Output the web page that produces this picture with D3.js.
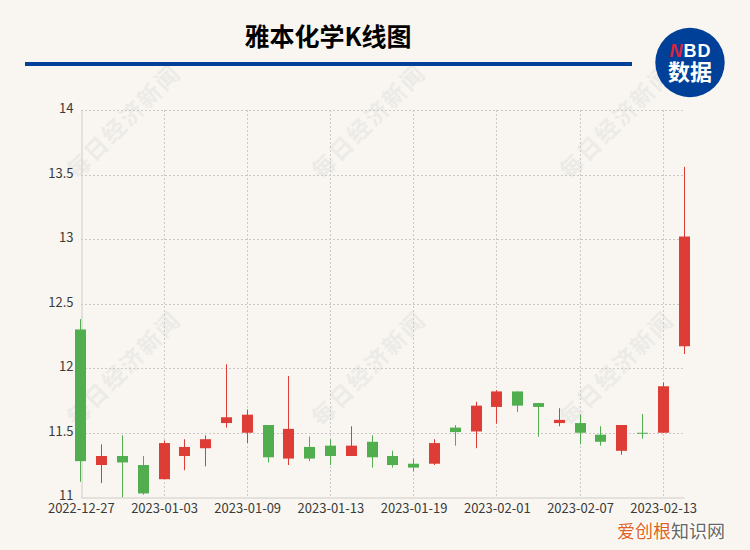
<!DOCTYPE html>
<html>
<head>
<meta charset="utf-8">
<script src="https://cdn.jsdelivr.net/npm/d3@7"></script>
<style>
html, body { margin: 0; padding: 0; background: #f9f6f1; overflow: hidden; }
svg { display: block; font-family: "Noto Sans CJK SC", "Noto Sans", sans-serif; }
</style>
</head>
<body>
<div id="chart"></div>
<script>
var dates = ["2022-12-27","2022-12-28","2022-12-29","2022-12-30","2023-01-03","2023-01-04","2023-01-05","2023-01-06","2023-01-09","2023-01-10",
	"2023-01-11","2023-01-12","2023-01-13","2023-01-16","2023-01-17","2023-01-18","2023-01-19","2023-01-20","2023-01-30","2023-01-31",
	"2023-02-01","2023-02-02","2023-02-03","2023-02-06","2023-02-07","2023-02-08","2023-02-09","2023-02-10","2023-02-13","2023-02-14"];
var open = [12.30,11.25,11.32,11.25,11.14,11.32,11.38,11.575,11.50,11.56,
	11.30,11.39,11.40,11.32,11.43,11.32,11.26,11.26,11.54,11.51,
	11.70,11.82,11.73,11.575,11.575,11.485,11.36,11.50,11.50,12.17];
var close = [11.28,11.32,11.27,11.03,11.42,11.39,11.45,11.62,11.64,11.31,
	11.53,11.30,11.32,11.40,11.31,11.25,11.23,11.42,11.505,11.71,
	11.82,11.71,11.70,11.60,11.50,11.43,11.56,11.50,11.86,13.02];
var low = [11.12,11.11,11.00,11.02,11.14,11.21,11.24,11.54,11.42,11.27,
	11.25,11.28,11.25,11.32,11.23,11.23,11.20,11.25,11.40,11.38,
	11.57,11.66,11.47,11.55,11.41,11.40,11.33,11.455,11.50,12.11];
var high = [12.38,11.41,11.48,11.32,11.44,11.45,11.48,12.03,11.68,11.56,
	11.94,11.47,11.45,11.55,11.48,11.36,11.30,11.45,11.56,11.74,
	11.83,11.82,11.73,11.69,11.64,11.55,11.56,11.645,11.89,13.56];
var xTicks = ["2022-12-27","2023-01-03","2023-01-09","2023-01-13","2023-01-19","2023-02-01","2023-02-07","2023-02-13"];
var yTicks = [11, 11.5, 12, 12.5, 13, 13.5, 14];
var wmText = "每日经济新闻";
var wmX = [125, 370, 618];
var wmY = [123, 370];

var red = "#dd3d35", green = "#50ae4f", gridc = "#cbc9c5", axisc = "#cfccc8";

var svg = d3.select("#chart").append("svg").attr("width", 750).attr("height", 550);

var x = d3.scalePoint().domain(dates).range([80.8, 684]);
var y = d3.scaleLinear().domain([11, 14]).range([497.3, 110]);
function px(d) { return Math.floor(x(d)) + 0.5; }

// watermark
wmX.forEach(function(wx) {
	wmY.forEach(function(wy) {
		svg.append("text")
			.attr("transform", "translate(" + wx + "," + wy + ") rotate(-45)")
			.attr("text-anchor", "middle")
			.attr("dominant-baseline", "middle")
			.attr("font-size", 23)
			.attr("font-weight", 700)
			.attr("letter-spacing", 2)
			.attr("fill", "#ecebe7")
			.text(wmText);
	});
});

// grid
svg.append("g").selectAll("line").data(yTicks).enter().append("line")
	.attr("x1", 81).attr("x2", 684)
	.attr("y1", function(d) { return Math.round(y(d)) + 0.5; })
	.attr("y2", function(d) { return Math.round(y(d)) + 0.5; })
	.attr("stroke", function(d) { return d == 11 ? "none" : gridc; })
	.attr("stroke-dasharray", "2,2");
svg.append("g").selectAll("line").data(xTicks.slice(1)).enter().append("line")
	.attr("x1", px)
	.attr("x2", px)
	.attr("y1", 110).attr("y2", 497)
	.attr("stroke", gridc)
	.attr("stroke-dasharray", "2,2");

// axes
var yAxis = svg.append("g").attr("transform", "translate(81.5,0)")
	.call(d3.axisLeft(y).tickValues(yTicks).tickSize(0).tickPadding(8).tickFormat(function(d) { return String(d); }));
var xAxis = svg.append("g").attr("transform", "translate(0,497.5)")
	.call(d3.axisBottom(x).tickValues(xTicks).tickSize(0).tickPadding(6));
svg.selectAll(".domain").attr("stroke", axisc).attr("stroke-width", 1);
svg.selectAll(".tick text").attr("fill", "#3a3a3a")
	.attr("font-family", '"Noto Sans CJK SC", "Noto Sans", sans-serif');
xAxis.selectAll(".tick text").attr("font-size", 13);
yAxis.selectAll(".tick text").attr("font-size", 13).attr("dy", "0.2em");

// candles
var idx = d3.range(dates.length);
var color = function(i) { return close[i] > open[i] ? red : green; };
var candle = svg.append("g").selectAll("g").data(idx).enter().append("g");
candle.append("line")
	.attr("x1", function(i) { return px(dates[i]); })
	.attr("x2", function(i) { return px(dates[i]); })
	.attr("y1", function(i) { return y(high[i]); })
	.attr("y2", function(i) { return y(low[i]); })
	.attr("stroke", color)
	.attr("stroke-width", 1);
candle.append("rect")
	.attr("x", function(i) { return px(dates[i]) - 5.5; })
	.attr("width", 11)
	.attr("y", function(i) { return y(Math.max(open[i], close[i])); })
	.attr("height", function(i) { return Math.max(1, Math.abs(y(open[i]) - y(close[i]))); })
	.attr("fill", color);

// title
svg.append("text").attr("x", 328).attr("y", 46)
	.attr("text-anchor", "middle")
	.attr("font-size", 25)
	.attr("font-weight", 700)
	.attr("fill", "#000")
	.text("雅本化学K线图");
svg.append("rect").attr("x", 25).attr("y", 62).attr("width", 607).attr("height", 4).attr("fill", "#004098");

// logo
svg.append("circle").attr("cx", 690).attr("cy", 62.5).attr("r", 34.7).attr("fill", "#004098");
var nbd = svg.append("text").attr("x", 690.5).attr("y", 57).attr("text-anchor", "middle")
	.attr("font-size", 18).attr("font-weight", 700).attr("letter-spacing", 1)
	.attr("font-family", '"Liberation Sans", sans-serif');
nbd.append("tspan").attr("fill", "#e0213a").attr("font-style", "italic").text("N");
nbd.append("tspan").attr("fill", "#fff").text("BD");
svg.append("text").attr("x", 690).attr("y", 79.5).attr("text-anchor", "middle")
	.attr("font-size", 22).attr("font-weight", 700).attr("fill", "#fff")
	.text("数据");

// site mark bottom right
var site = svg.append("text").attr("x", 617).attr("y", 538)
	.attr("font-size", 18)
	.attr("paint-order", "stroke")
	.attr("stroke", "#fff").attr("stroke-width", 2);
site.append("tspan").attr("fill", "#e0641e").text("爱创根");
site.append("tspan").attr("fill", "#666").text("知识网");
</script>
</body>
</html>
